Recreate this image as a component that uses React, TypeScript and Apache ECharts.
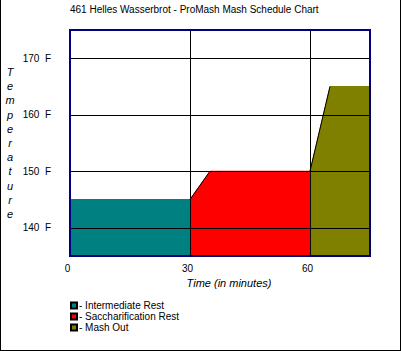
import React, { useEffect, useRef } from "react";
import * as echarts from "echarts";

const titleText = "461 Helles Wasserbrot - ProMash Mash Schedule Chart";
const stepNames = ["Intermediate Rest", "Saccharification Rest", "Mash Out"];
const stepColors = ["#008080", "#FF0000", "#808000"];
// [minutes, °F]
const intermediateRest = [[0, 145], [30, 145]];
const saccharificationRest = [[30, 145], [35, 150], [60, 150]];
const mashOut = [[60, 150], [65, 165], [75, 165]];
const xGridValues = [30, 60];
const yGridValues = [140, 150, 160, 170];
const xLabelValues = [0, 30, 60];
const yLabelValues = [140, 150, 160, 170];
const yAxisName = "Temperature";
const xAxisName = "Time (in minutes)";

export default function App() {
  const ref = useRef<HTMLDivElement>(null);
  useEffect(() => {
    document.body.style.margin = "0";
    const chart = echarts.init(ref.current!, null, { renderer: "svg" });
    const font = "Arial, 'Liberation Sans', sans-serif";
    const stepData = [intermediateRest, saccharificationRest, mashOut];
    const areaSeries = stepData.map((d, i) => ({
      name: stepNames[i],
      type: "line",
      data: d,
      symbol: "none",
      z: 2,
      lineStyle: { color: stepColors[i], width: 1 },
      itemStyle: { color: stepColors[i], borderColor: "#000", borderWidth: 1 },
      areaStyle: { color: stepColors[i], opacity: 1, origin: "start" },
    }));
    const rampSeries = [saccharificationRest, mashOut].map((d) => ({
      type: "line",
      data: d.slice(0, 2),
      symbol: "none",
      z: 3,
      lineStyle: { color: "#000", width: 1 },
    }));
    const gridSeries = {
      type: "line",
      data: [],
      z: 4,
      markLine: {
        silent: true,
        symbol: "none",
        label: { show: false },
        lineStyle: { color: "#000", width: 1, type: "solid" },
        data: [
          ...xGridValues.map((v) => ({ xAxis: v })),
          ...yGridValues.map((v) => ({ yAxis: v })),
        ],
      },
    };
    chart.setOption({
      animation: false,
      backgroundColor: "#fff",
      textStyle: { fontFamily: font },
      title: {
        text: titleText,
        left: 70,
        top: 4,
        padding: 0,
        textStyle: { fontSize: 10, fontWeight: "normal", color: "#000", fontFamily: font },
      },
      grid: {
        left: 70,
        top: 30,
        right: 31,
        bottom: 95,
        show: true,
        z: 10,
        backgroundColor: "transparent",
        borderColor: "#000080",
        borderWidth: 2,
      },
      xAxis: {
        type: "value",
        min: 0,
        max: 75,
        interval: 15,
        splitLine: { show: false },
        axisLine: { show: false },
        axisTick: { show: false },
        axisLabel: {
          color: "#000",
          fontSize: 10,
          margin: 7,
          padding: [0, 5, 0, 0],
          showMaxLabel: false,
          formatter: (v: number) => (xLabelValues.includes(v) ? String(v) : ""),
        },
        name: xAxisName,
        nameLocation: "middle",
        nameGap: 20,
        nameTextStyle: {
          fontSize: 11,
          fontStyle: "italic",
          color: "#000",
          padding: [0, 0, 0, 18],
        },
      },
      yAxis: {
        type: "value",
        min: 135,
        max: 175,
        interval: 5,
        splitLine: { show: false },
        axisLine: { show: false },
        axisTick: { show: false },
        axisLabel: {
          color: "#000",
          fontSize: 10,
          margin: 19,
          formatter: (v: number) => (yLabelValues.includes(v) ? v + "  F" : ""),
        },
        name: yAxisName.split("").join("\n"),
        nameLocation: "middle",
        nameRotate: 0,
        nameGap: 60,
        nameTextStyle: {
          fontSize: 11,
          fontStyle: "italic",
          color: "#000",
          align: "center",
          verticalAlign: "middle",
          lineHeight: 14.2,
        },
      },
      legend: {
        data: stepNames,
        orient: "vertical",
        left: 70,
        top: 300,
        padding: 0,
        itemWidth: 6,
        itemHeight: 6,
        itemGap: 0,
        icon: "rect",
        formatter: "- {name}",
        textStyle: { fontSize: 10, color: "#000", lineHeight: 11, padding: [0, 0, 0, -3] },
      },
      graphic: [
        { type: "line", shape: { x1: 0.5, y1: 0, x2: 0.5, y2: 351 }, style: { stroke: "#000", lineWidth: 1 } },
        { type: "line", shape: { x1: 400.5, y1: 0, x2: 400.5, y2: 351 }, style: { stroke: "#000", lineWidth: 1 } },
        { type: "line", shape: { x1: 0, y1: 350.5, x2: 401, y2: 350.5 }, style: { stroke: "#000", lineWidth: 1 } },
      ],
      series: [...areaSeries, ...rampSeries, gridSeries],
    });
    return () => chart.dispose();
  }, []);
  return <div ref={ref} style={{ width: 401, height: 351 }} />;
}
